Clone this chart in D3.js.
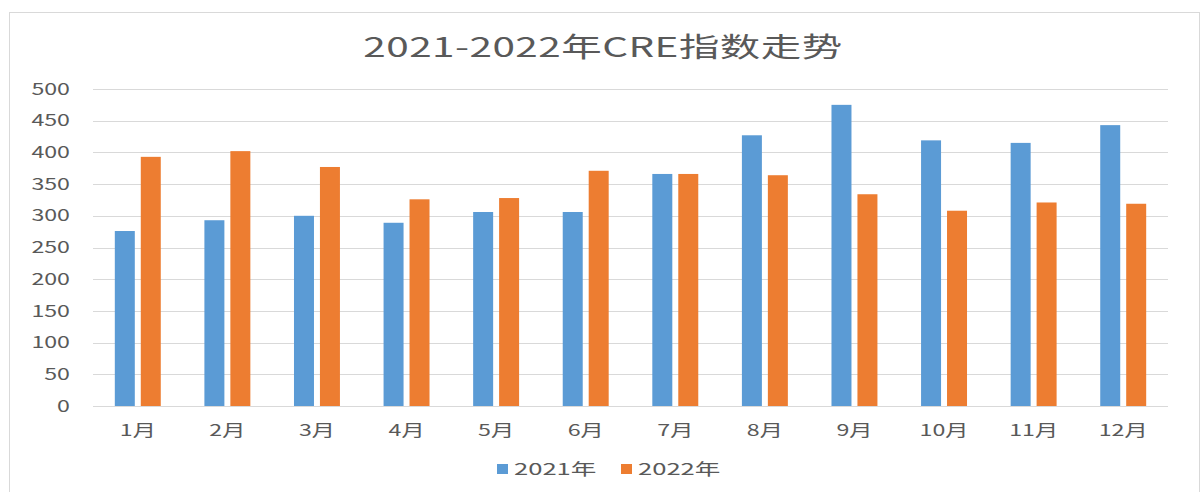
<!DOCTYPE html>
<html>
<head>
<meta charset="utf-8">
<script src="https://cdn.jsdelivr.net/npm/d3@7"></script>
<style>
  html, body { margin: 0; padding: 0; background: #fff; }
  text { font-family: "Noto Sans CJK SC", "Noto Sans", sans-serif; fill: #595959; }
</style>
</head>
<body>
<script>
/* 2021-2022年CRE指数走势 分组柱状图 */

const months = ["1月", "2月", "3月", "4月", "5月", "6月", "7月", "8月", "9月", "10月", "11月", "12月"];
const seriesNames = ["2021年", "2022年"];
const values2021 = [276, 293, 300, 289, 306, 306, 366, 427, 475, 419, 415, 443];
const values2022 = [393, 402, 377, 326, 328, 371, 366, 364, 334, 308, 321, 319];
const yTicks = [0, 50, 100, 150, 200, 250, 300, 350, 400, 450, 500];
const colors = ["#5B9BD5", "#ED7D31"];

const width = 1203, height = 492;
const margin = { top: 89, right: 35, bottom: 86, left: 93 };
// the picture is stretched sideways, so text is widened too
const sx = 1.45;

const rows = months.map((m, i) => ({ month: m, "2021年": values2021[i], "2022年": values2022[i] }));

const svg = d3.select("body").append("svg")
  .attr("width", width)
  .attr("height", height);

// outer frame
svg.append("rect")
  .attr("x", 9.5).attr("y", 12.5)
  .attr("width", 1190).attr("height", 500)
  .attr("fill", "none")
  .attr("stroke", "#d9d9d9");

const x0 = d3.scaleBand()
  .domain(months)
  .range([margin.left, width - margin.right])
  .paddingInner(0.487)
  .paddingOuter(0.2435);

const x1 = d3.scaleBand()
  .domain(seriesNames)
  .range([0, x0.bandwidth()])
  .paddingInner(0.23);

const y = d3.scaleLinear()
  .domain([0, 500])
  .range([height - margin.bottom, margin.top]);

// gridlines
svg.append("g")
  .selectAll("line")
  .data(yTicks.filter(t => t > 0))
  .enter().append("line")
  .attr("x1", margin.left)
  .attr("x2", width - margin.right)
  .attr("y1", d => Math.round(y(d)) + 0.5)
  .attr("y2", d => Math.round(y(d)) + 0.5)
  .attr("stroke", "#d9d9d9")
  .attr("stroke-width", 1);

// y labels
svg.append("g")
  .selectAll("text")
  .data(yTicks)
  .enter().append("text")
  .attr("transform", d => `translate(70,${y(d)}) scale(${sx},1)`)
  .attr("text-anchor", "end")
  .attr("dy", "0.35em")
  .attr("font-size", 16)
  .text(d => d);

// bars
svg.append("g")
  .selectAll("g")
  .data(rows)
  .enter().append("g")
  .attr("transform", d => `translate(${x0(d.month)},0)`)
  .selectAll("rect")
  .data(d => seriesNames.map((k, i) => ({ key: k, value: d[k], i })))
  .enter().append("rect")
  .attr("x", d => x1(d.key))
  .attr("y", d => y(d.value))
  .attr("width", x1.bandwidth())
  .attr("height", d => y(0) - y(d.value))
  .attr("fill", d => colors[d.i]);

// x axis line
svg.append("line")
  .attr("x1", margin.left)
  .attr("x2", width - margin.right)
  .attr("y1", Math.round(y(0)) + 0.5)
  .attr("y2", Math.round(y(0)) + 0.5)
  .attr("stroke", "#d9d9d9");

// x labels
svg.append("g")
  .selectAll("text")
  .data(months)
  .enter().append("text")
  .attr("transform", d => `translate(${x0(d) + x0.bandwidth() / 2},436) scale(${sx},1)`)
  .attr("text-anchor", "middle")
  .attr("font-size", 16)
  .text(d => d);

// title
svg.append("text")
  .attr("transform", `translate(603,57) scale(1.5,1)`)
  .attr("text-anchor", "middle")
  .attr("font-size", 27)
  .attr("letter-spacing", 0.3)
  .text("2021-2022年CRE指数走势");

// legend
const legendX = [497, 621];
const legend = svg.append("g")
  .selectAll("g")
  .data(seriesNames)
  .enter().append("g")
  .attr("transform", (d, i) => `translate(${legendX[i]},464)`);

legend.append("rect")
  .attr("width", 11).attr("height", 10)
  .attr("fill", (d, i) => colors[i]);

legend.append("text")
  .attr("transform", `translate(17,11) scale(1.6,1)`)
  .attr("font-size", 16)
  .text(d => d);
</script>
</body>
</html>
